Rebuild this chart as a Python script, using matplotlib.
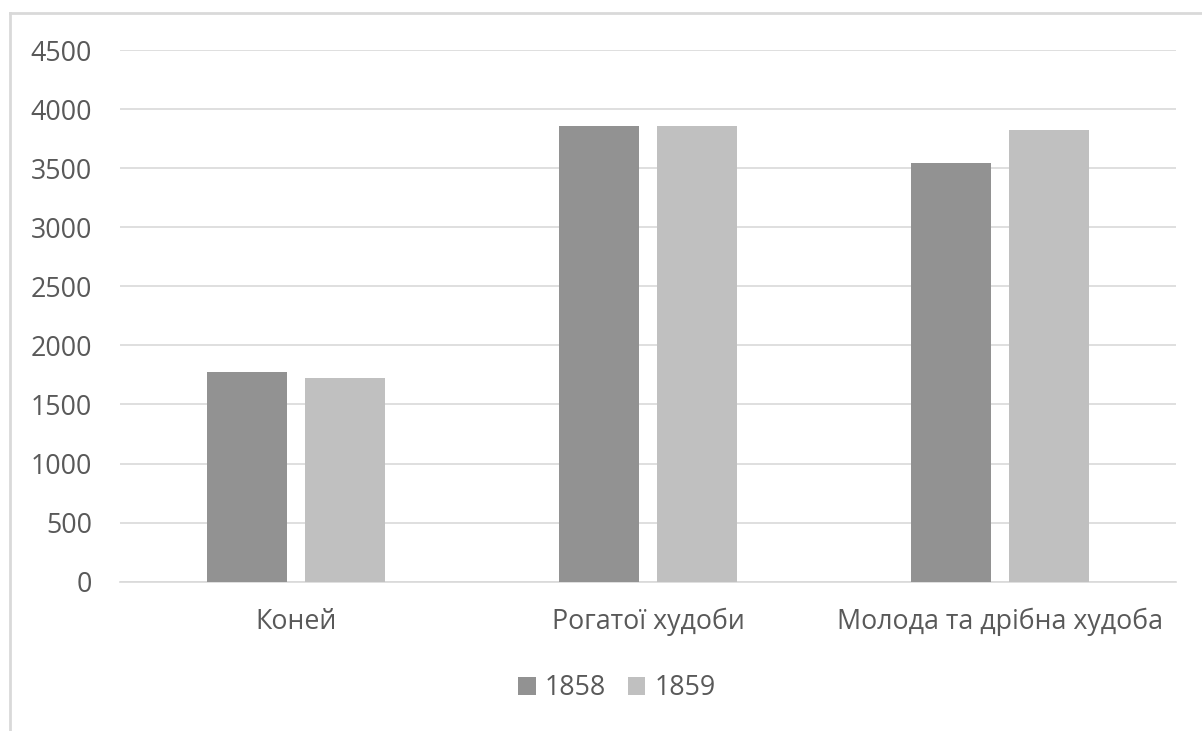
import numpy as np
import matplotlib
matplotlib.use("Agg")
import matplotlib.pyplot as plt
from matplotlib.lines import Line2D

categories = ["Коней", "Рогатої худоби", "Молода та дрібна худоба"]
years = ["1858", "1859"]
values_1858 = [1779, 3856, 3542]
values_1859 = [1726, 3855, 3827]
colors = ["#929292", "#c0c0c0"]
yticks = list(range(0, 4501, 500))

text_color = "#595959"
grid_color = "#d9d9d9"

plt.rcParams['font.family'] = ['Open Sans', 'DejaVu Sans']

W, H = 1202, 731
fig = plt.figure(figsize=(W / 100, H / 100), dpi=100)
ax = fig.add_axes([120 / W, (H - 581.7) / H, (1176 - 120) / W, (581.7 - 50) / H])

x = np.arange(len(categories))
width = 0.227
offset = (width + 0.051) / 2
ax.bar(x - offset, values_1858, width, color=colors[0], label=years[0], zorder=3)
ax.bar(x + offset, values_1859, width, color=colors[1], label=years[1], zorder=3)

ax.set_xlim(-0.5, len(categories) - 0.5)
ax.set_ylim(0, 4500)
ax.set_yticks(yticks)
ax.set_yticklabels([str(t) for t in yticks])
ax.set_xticks(x)
ax.set_xticklabels(categories)

ax.yaxis.grid(True, color=grid_color, linewidth=1.2, zorder=0)
ax.set_axisbelow(True)
for s in ["top", "right", "left"]:
    ax.spines[s].set_visible(False)
ax.spines["bottom"].set_color(grid_color)
ax.spines["bottom"].set_linewidth(1.2)
ax.tick_params(axis="both", length=0, colors=text_color, labelsize=19.3)
ax.tick_params(axis="y", pad=20)
ax.tick_params(axis="x", pad=19)

fig.legend(loc="center", bbox_to_anchor=(617 / W, (H - 688) / H), ncol=2,
           frameon=False, fontsize=19.3, labelcolor=text_color,
           handlelength=0.65, handleheight=0.65, handletextpad=0.35, columnspacing=0.8)

# chart frame
fig.add_artist(Line2D([10 / W, 1], [(H - 13) / H, (H - 13) / H], transform=fig.transFigure,
                      color=grid_color, linewidth=2))
fig.add_artist(Line2D([10 / W, 10 / W], [0, (H - 13) / H], transform=fig.transFigure,
                      color=grid_color, linewidth=2))

fig.savefig("out.png", dpi=100)
